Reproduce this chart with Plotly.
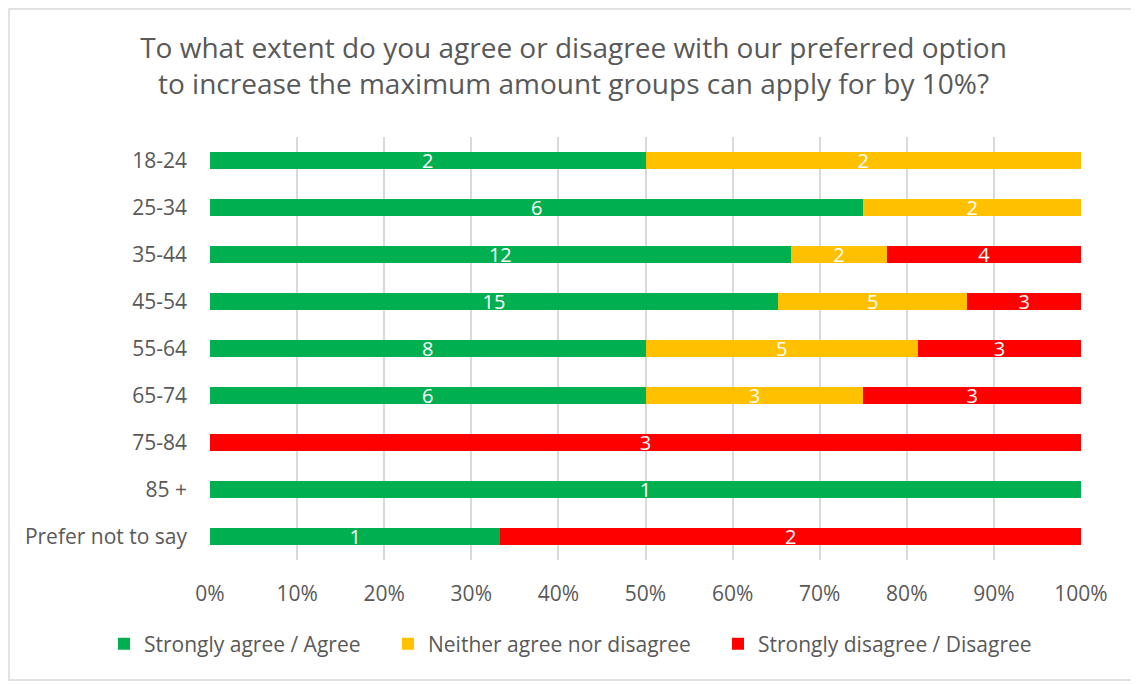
import plotly.graph_objects as go

categories = ["18-24", "25-34", "35-44", "45-54", "55-64", "65-74", "75-84", "85 +", "Prefer not to say"]
agree = [2, 6, 12, 15, 8, 6, 0, 1, 1]
neither = [2, 2, 2, 5, 5, 3, 0, 0, 0]
disagree = [0, 0, 4, 3, 3, 3, 3, 0, 2]
series_names = ["Strongly agree / Agree", "Neither agree nor disagree", "Strongly disagree / Disagree"]
colors = ["#00B050", "#FFC000", "#FF0000"]
tick_vals = [0, 10, 20, 30, 40, 50, 60, 70, 80, 90, 100]
tick_text = ["0%", "10%", "20%", "30%", "40%", "50%", "60%", "70%", "80%", "90%", "100%"]
title_text = "To what extent do you agree or disagree with our preferred option<br>to increase the maximum amount groups can apply for by 10%?"

FONT = "Open Sans"
W, H = 1131, 676
L, R, T, B = 202, 58, 129, 124
PW, PH = W - L - R, H - T - B
legend_ids = ["legend", "legend2", "legend3"]
legend_left_px = [96, 380, 710]

fig = go.Figure()
for name, vals, col, lid in zip(series_names, [agree, neither, disagree], colors, legend_ids):
    fig.add_trace(go.Bar(
        y=categories, x=vals, name=name, orientation="h", legend=lid, showlegend=True,
        marker=dict(color=col, line=dict(width=0)),
        text=[str(v) if v else "" for v in vals],
        textposition="inside", insidetextanchor="middle", textangle=0,
        textfont=dict(color="white", size=20, family=FONT),
        constraintext="none", hoverinfo="x+y",
    ))

legends = {}
for lid, lx in zip(legend_ids, legend_left_px):
    legends[lid] = dict(orientation="h", x=lx / W, xref="container", xanchor="left",
                        y=1 - 636 / H, yref="container", yanchor="middle",
                        font=dict(size=21, color="#595959"), itemsizing="constant",
                        bgcolor="rgba(0,0,0,0)", visible=True)

fig.update_layout(
    showlegend=True,
    barmode="stack", barnorm="percent", bargap=0.62,
    width=W, height=H, autosize=False,
    margin=dict(l=L, r=R, t=T, b=B, autoexpand=False),
    paper_bgcolor="white", plot_bgcolor="white",
    font=dict(family=FONT, color="#595959", size=21),
    title=dict(text=title_text, x=0.5, xref="container", xanchor="center",
               y=1 - 50 / H, yref="container", yanchor="middle",
               font=dict(size=28, color="#595959", family=FONT)),
    xaxis=dict(range=[0, 100], tickvals=tick_vals, ticktext=tick_text,
               showgrid=True, gridcolor="#D9D9D9", gridwidth=2, zeroline=False,
               showline=False, ticks="", ticklabelstandoff=19, tickangle=0, automargin=False,
               tickfont=dict(size=21, color="#595959")),
    yaxis=dict(autorange="reversed", showgrid=False, zeroline=False, showline=False,
               ticks="", ticklabelstandoff=22, automargin=False,
               tickfont=dict(size=21, color="#595959")),
    shapes=[dict(type="rect", xref="paper", yref="paper",
                 x0=(1 - L) / PW, x1=(1125 - L) / PW,
                 y0=(H - B - 672) / PH, y1=(H - B - 1) / PH,
                 line=dict(color="#D9D9D9", width=1.5), fillcolor="rgba(0,0,0,0)", layer="below")],
    **legends,
)

fig.write_html("out.html")
